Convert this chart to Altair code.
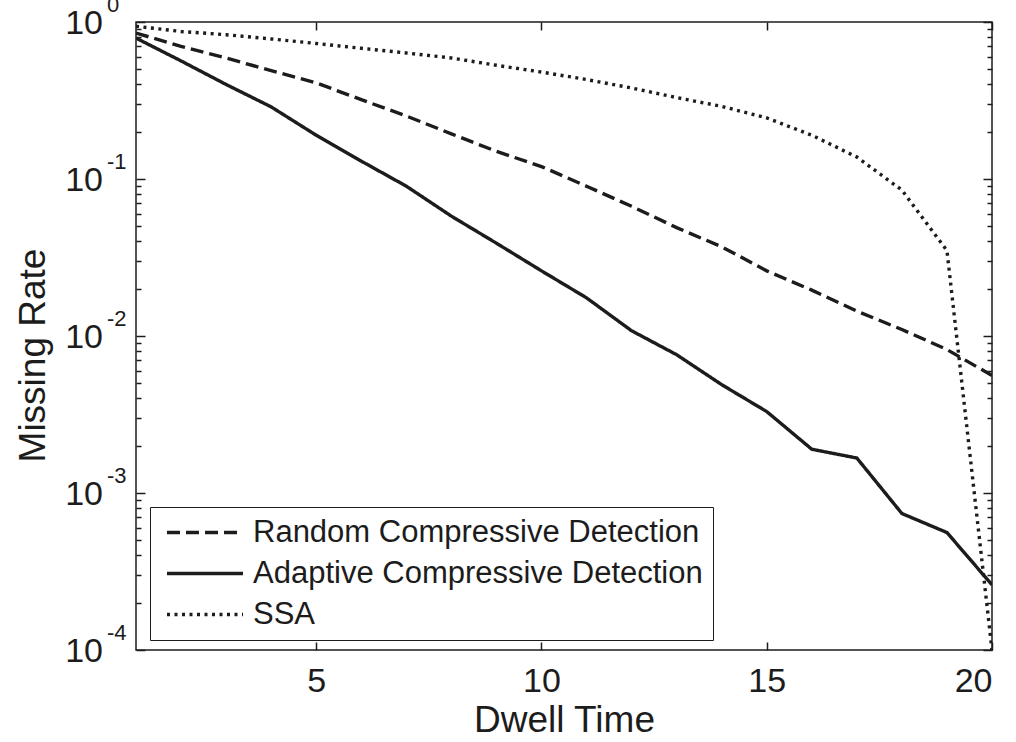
import altair as alt
import pandas as pd

# Missing rate versus dwell time for three detection schemes
dwell = list(range(1, 21))
random_cd = [0.85, 0.70, 0.59, 0.49, 0.41, 0.32, 0.252, 0.194, 0.15, 0.12,
             0.09, 0.067, 0.049, 0.037, 0.026, 0.0196, 0.0144, 0.011, 0.0082, 0.0056]
adaptive_cd = [0.79, 0.565, 0.40, 0.288, 0.19, 0.13, 0.09, 0.058, 0.039, 0.026,
               0.0175, 0.0108, 0.0076, 0.0049, 0.0033, 0.0019, 0.00167, 0.00074, 0.00056, 0.00026]
ssa = [0.94, 0.87, 0.83, 0.78, 0.73, 0.68, 0.635, 0.59, 0.53, 0.48,
       0.43, 0.38, 0.33, 0.29, 0.245, 0.19, 0.138, 0.085, 0.035, 0.0001]

series_names = ["Random Compressive Detection", "Adaptive Compressive Detection", "SSA"]
dash_patterns = [[13, 6], [1, 0], [3, 4.5]]

decades = [1, 0.1, 0.01, 0.001, 0.0001]
exponents = ["0", "-1", "-2", "-3", "-4"]
minor_ticks = [m * d for d in decades[1:] for m in range(2, 10)]
x_ticks = [5, 10, 15, 20]

rows = []
for name, values in zip(series_names, [random_cd, adaptive_cd, ssa]):
    for t, v in zip(dwell, values):
        rows.append({"series": name, "dwell": t, "rate": v})
df = pd.DataFrame(rows)
ylab = pd.DataFrame({"rate": decades, "exp": exponents})

W, H = 856, 628
FONT = "Liberation Sans"
INK = "#1c1c1c"

x_scale = alt.Scale(domain=[1, 20], nice=False, zero=False)
y_scale = alt.Scale(type="log", domain=[1e-4, 1], nice=False)


def tick_axis(orient, values, size, offset):
    # inward-pointing tick marks drawn along the frame
    return alt.Axis(orient=orient, offset=offset, values=values, tickSize=size,
                    tickColor=INK, tickWidth=1.5, labels=False, domain=False,
                    grid=False, title=None)


lines = alt.Chart(df).mark_line(strokeWidth=3.4, color=INK, clip=True).encode(
    x=alt.X("dwell:Q", scale=x_scale,
            axis=alt.Axis(title="Dwell Time", values=x_ticks, ticks=False, domain=False,
                          grid=False, labelFontSize=34, labelPadding=14, labelFont=FONT,
                          labelColor=INK, titleFontSize=37, titleFont=FONT, titleColor=INK,
                          titleFontWeight="normal", titlePadding=4)),
    y=alt.Y("rate:Q", scale=y_scale,
            axis=alt.Axis(title="Missing Rate", labels=False, ticks=False, domain=False,
                          grid=False, titleFontSize=37, titleFont=FONT, titleColor=INK,
                          titleFontWeight="normal", titlePadding=84, titleY=333)),
    strokeDash=alt.StrokeDash(
        "series:N", sort=series_names,
        scale=alt.Scale(domain=series_names, range=dash_patterns),
        legend=alt.Legend(orient="none", legendX=14, legendY=485, title=None,
                          symbolType="stroke", symbolSize=5776, symbolStrokeWidth=3.4,
                          symbolStrokeColor=INK, clipHeight=31, rowPadding=9,
                          labelFontSize=31, labelFont=FONT, labelColor=INK,
                          labelLimit=800, labelOffset=8, padding=10, symbolOffset=5,
                          strokeColor=INK, fillColor="white")),
)

ghost = alt.Chart(df).mark_point(opacity=0)

left_minor = ghost.encode(
    x=alt.X("dwell:Q", scale=x_scale, axis=tick_axis("bottom", x_ticks, 8, -H)),
    y=alt.Y("rate:Q", scale=y_scale, axis=tick_axis("right", minor_ticks, 5, -W)),
)
left_major = ghost.encode(
    x=alt.X("dwell:Q", scale=x_scale, axis=tick_axis("top", x_ticks, 8, -H)),
    y=alt.Y("rate:Q", scale=y_scale, axis=tick_axis("right", decades, 9, -W)),
)
right_minor = ghost.encode(
    x=alt.X("dwell:Q", scale=x_scale, axis=None),
    y=alt.Y("rate:Q", scale=y_scale, axis=tick_axis("left", minor_ticks, 5, -W)),
)
right_major = ghost.encode(
    x=alt.X("dwell:Q", scale=x_scale, axis=None),
    y=alt.Y("rate:Q", scale=y_scale, axis=tick_axis("left", decades, 9, -W)),
)

tens = alt.Chart(ylab).mark_text(align="right", baseline="middle", fontSize=34,
                                 font=FONT, color=INK, dy=2).encode(
    x=alt.value(-33),
    y=alt.Y("rate:Q", scale=y_scale, axis=None),
    text=alt.value("10"),
)
powers = alt.Chart(ylab).mark_text(align="left", baseline="alphabetic", fontSize=22,
                                   font=FONT, color=INK, dy=-10).encode(
    x=alt.value(-29),
    y=alt.Y("rate:Q", scale=y_scale, axis=None),
    text="exp:N",
)

chart = alt.layer(
    lines, left_minor, left_major, right_minor, right_major, tens, powers
).resolve_axis(
    x="independent", y="independent"
).properties(
    width=W, height=H,
    padding={"left": 136, "top": 22, "right": 24, "bottom": 92},
    autosize=alt.AutoSizeParams(type="none"),
    background="white",
).configure_view(stroke=INK, strokeWidth=1.5)

chart.save("out.html", embed_options={"renderer": "svg", "actions": False})
